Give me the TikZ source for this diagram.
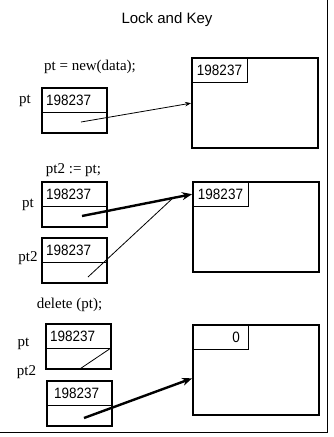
\documentclass[tikz,border=0pt]{standalone}
\usepackage{fontspec}
\setmainfont{Liberation Serif}
\newfontfamily\sansfont{Liberation Sans}
\newfontfamily\digitfont[FakeStretch=0.9]{Liberation Sans}
\usetikzlibrary{arrows.meta,calc}

\begin{document}
\begin{tikzpicture}[x=1pt,y=-1pt,
  every node/.style={outer sep=0pt},
  lbl/.style={font=\fontsize{15}{18}\selectfont, inner sep=0pt},
  titletext/.style={font=\sansfont\fontsize{15}{18}\selectfont, inner sep=0pt},
  ptrbox/.style={draw, line width=2pt, minimum width=65pt, minimum height=45pt,
    inner sep=0pt, anchor=north west},
  ptrkey/.style={draw, line width=0.8pt, minimum height=24pt, text width=57pt,
    inner xsep=4pt, inner ysep=0pt, anchor=north west,
    font=\digitfont\fontsize{15}{16}\selectfont},
  heapbox/.style={draw, line width=2pt, minimum width=126pt, minimum height=90pt,
    inner sep=0pt, anchor=north west},
  heapkey/.style={draw, line width=0.8pt, minimum height=24pt, text width=47pt,
    inner xsep=4pt, inner ysep=0pt, anchor=north west, align=center,
    font=\digitfont\fontsize{15}{16}\selectfont},
  zerokey/.style={heapkey, text width=39pt, inner xsep=8pt, align=right},
  thinarrow/.style={line width=0.8pt, -{Stealth[length=6pt,width=4.5pt]}, shorten >=1pt},
  thickarrow/.style={line width=2.4pt, -{Stealth[length=10pt,width=8pt]}, shorten >=1pt},
  thinline/.style={line width=0.8pt},
  frame/.style={line width=1pt}
]
\useasboundingbox (0,0) rectangle (333,437);

% title
\node[titletext] (title) at (167,20) {Lock and Key};

% step 1: allocation
\node[lbl] (stmt1) at (90,67) {pt = new(data);};
\node[lbl] (lbl1) at (25,101) {pt};
\node[ptrbox] (ptr1) at (42,88) {};
\node[ptrkey] (ptr1key) at (42,88) {198237};
\node[heapbox] (heap1) at (192,58) {};
\node[heapkey] (heap1key) at (192,58) {198237};
\coordinate (src1) at (81,122);
\draw[thinarrow] (src1) -- (heap1.west);

% step 2: copying the pointer
\node[lbl] (stmt2) at (73.5,170) {pt2 := pt;};
\node[lbl] (lbl2a) at (28,205) {pt};
\node[ptrbox] (ptr2a) at (42,182) {};
\node[ptrkey] (ptr2akey) at (42,182) {198237};
\node[lbl] (lbl2b) at (28,258) {pt2};
\node[ptrbox] (ptr2b) at (42,238) {};
\node[ptrkey] (ptr2bkey) at (42,238) {198237};
\node[heapbox] (heap2) at (193,182) {};
\node[heapkey] (heap2key) at (193,182) {198237};
\coordinate (src2a) at (82,216);
\coordinate (src2b) at (88,277);
\draw[thickarrow] (src2a) -- (heap2key.west);
\draw[thinline] (src2b) -- ($(src2a)!0.82!(heap2key.west)$);

% step 3: deallocation
\node[lbl] (stmt3) at (69.5,305) {delete (pt);};
\node[lbl] (lbl3a) at (23.5,344) {pt};
\node[ptrbox] (ptr3a) at (46,324) {};
\node[ptrkey] (ptr3akey) at (46,324) {198237};
\draw[thinline] ($(ptr3a.south west)!0.52!(ptr3a.south east)$) -- (ptr3akey.south east);
\node[lbl] (lbl3b) at (26.5,372) {pt2};
\node[ptrbox] (ptr3b) at (47,381) {};
\node[ptrkey] (ptr3bkey) at (47,381) {\hspace*{3pt}198237};
\node[heapbox] (heap3) at (193,325) {};
\node[zerokey] (heap3key) at (193,325) {0};
\coordinate (src3) at (84,418);
\draw[thickarrow] (src3) -- ([yshift=-8pt]heap3.west);

% outer frame edges
\draw[frame] (0,432) -- (327,432) -- (327,0);
\end{tikzpicture}
\end{document}
